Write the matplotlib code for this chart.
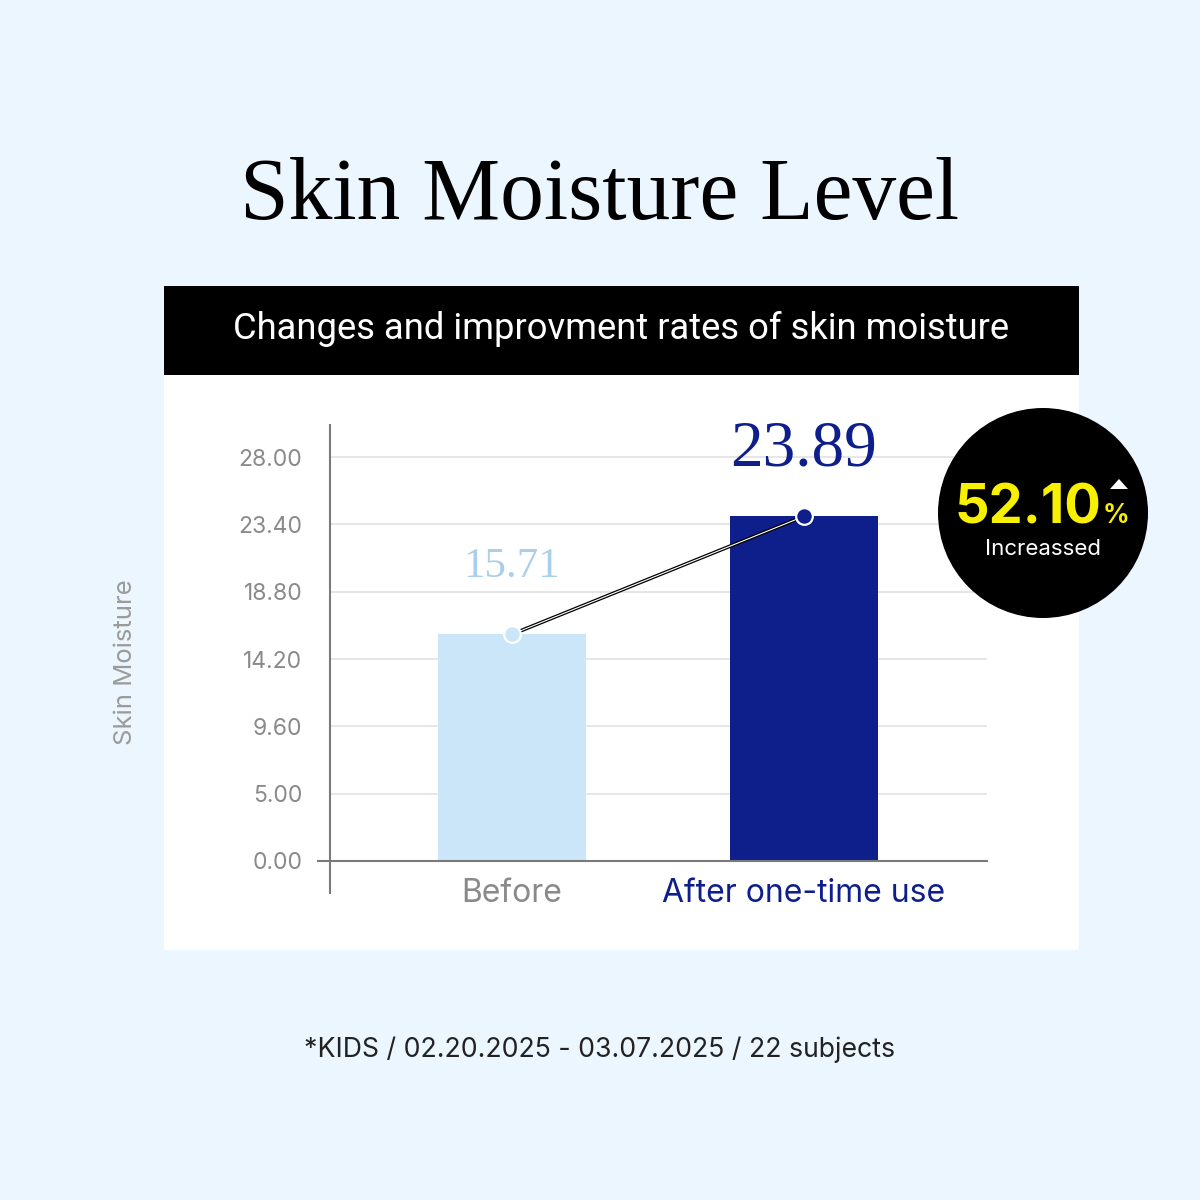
import matplotlib
matplotlib.use("Agg")
import matplotlib.pyplot as plt
from matplotlib.patches import Rectangle, Circle, Polygon

# ---------------------------------------------------------------------------
# Data
# ---------------------------------------------------------------------------
categories = ["Before", "After one-time use"]
values = [15.71, 23.89]
value_labels = ["15.71", "23.89"]
tick_labels = ["0.00", "5.00", "9.60", "14.20", "18.80", "23.40", "28.00"]
increase_pct = "52.10"

BG = "#EBF6FE"
LIGHT = "#CCE6F9"
NAVY = "#0E1F8B"
GREY = "#8A8A8A"

W = H = 1200
fig = plt.figure(figsize=(12, 12), dpi=100, facecolor=BG)

# background layer in pixel coordinates
bg = fig.add_axes([0, 0, 1, 1], zorder=0)
bg.set_xlim(0, W)
bg.set_ylim(H, 0)
bg.axis("off")
bg.add_patch(Rectangle((164, 375), 915, 575, color="white", lw=0))
bg.add_patch(Rectangle((164, 286), 915, 89, color="black", lw=0))

bg.text(600, 198, "Skin Moisture Level", ha="center", va="center",
        fontsize=63, family="Liberation Serif", color="black")
bg.text(621, 329, "Changes and improvment rates of skin moisture",
        ha="center", va="center", fontsize=26.2, family="Roboto", color="white")
bg.text(125, 662, "Skin Moisture", ha="center", va="center", rotation=90,
        fontsize=18.5, family="Inter", color="#9B9B9B")
bg.text(600, 1050, "*KIDS / 02.20.2025 - 03.07.2025 / 22 subjects",
        ha="center", va="center", fontsize=19.2, family="Inter", color="#222222")

# chart axes
ax = fig.add_axes([330 / W, 1 - 893 / H, 657 / W, 468 / H], zorder=1)
ax.patch.set_alpha(0)
x = list(range(len(categories)))
ax.bar(x, values, width=0.507, color=[LIGHT, NAVY], zorder=2)

top = 28.0
ticks = [top * i / (len(tick_labels) - 1) for i in range(len(tick_labels))]
ax.set_yticks(ticks)
ax.set_yticklabels(tick_labels, family="Inter", fontsize=16.5, color=GREY)
ax.set_ylim(-2.22, 30.22)
ax.set_xlim(-0.623, 1.627)
for t in ticks[1:]:
    ax.axhline(t, color="#E6E6E6", lw=1.4, zorder=1)
ax.plot([-0.664, 1.627], [0, 0], color="#7A7A7A", lw=1.5, clip_on=False, zorder=3)

for s in ["top", "right", "bottom"]:
    ax.spines[s].set_visible(False)
ax.spines["left"].set_color("#7A7A7A")
ax.spines["left"].set_linewidth(1.5)
ax.tick_params(axis="y", length=0, pad=20)
ax.tick_params(axis="x", length=0, pad=-11)
ax.set_xticks(x)
ax.set_xticklabels(categories, family="Inter", fontsize=23)
for lab, c in zip(ax.get_xticklabels(), [GREY, NAVY]):
    lab.set_color(c)

# connector (double line) and dots
ax.plot(x, values, color="black", lw=2.6, zorder=4, solid_capstyle="butt")
ax.plot(x, values, color="white", lw=0.8, zorder=5, solid_capstyle="butt")
for xi, v, c in zip(x, values, [LIGHT, NAVY]):
    ax.plot(xi, v, "o", ms=12, mfc=c, mec="white", mew=1.6, zorder=6)

ax.annotate(value_labels[0], (x[0], values[0]), xytext=(0, 49), textcoords="offset points",
            ha="center", va="center", fontsize=31, family="Liberation Serif", color="#A9CFEA")
ax.annotate(value_labels[1], (x[1], values[1]), xytext=(0, 48), textcoords="offset points",
            ha="center", va="center", fontsize=47, family="Liberation Serif", color=NAVY)

# badge overlay
ov = fig.add_axes([0, 0, 1, 1], zorder=2)
ov.set_xlim(0, W)
ov.set_ylim(H, 0)
ov.axis("off")
ov.add_patch(Circle((1043, 513), 105, color="black", lw=0))
ov.text(1101, 523, increase_pct, ha="right", va="baseline", fontsize=39,
        family="Inter", weight="bold", color="#F7F000")
ov.text(1103, 523, "%", ha="left", va="baseline", fontsize=19,
        family="Inter", weight="bold", color="#F7F000")
ov.add_patch(Polygon([[1110, 489], [1128, 489], [1119, 479]], color="white", lw=0))
ov.text(1043, 549, "Increassed", ha="center", va="center", fontsize=16,
        family="Inter", color="white")

fig.savefig("out.png", dpi=100, facecolor=BG)
